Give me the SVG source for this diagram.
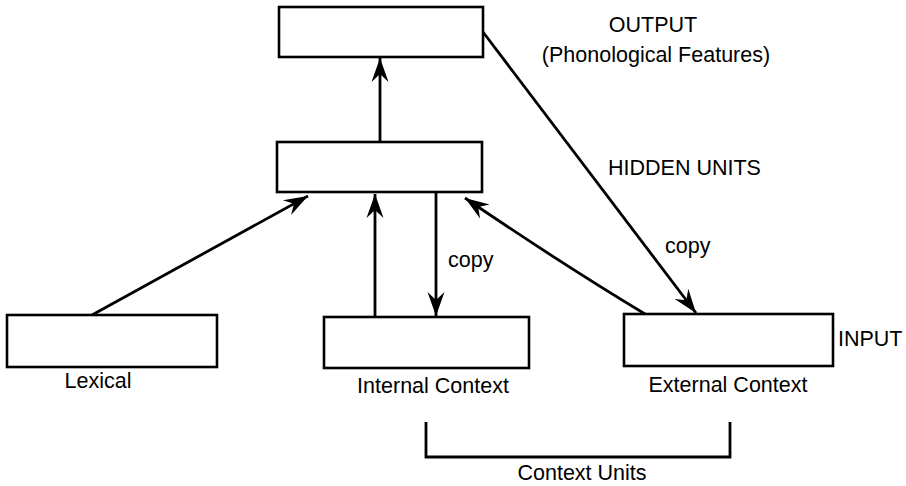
<svg xmlns="http://www.w3.org/2000/svg" width="906" height="486" viewBox="0 0 906 486">
<style>
.box{fill:#fff;stroke:#000;stroke-width:2.6}
.ln{fill:none;stroke:#000;stroke-width:2.8}
.t{font-family:"Liberation Sans",Arial,sans-serif;font-size:21.5px;fill:#000}
.m{text-anchor:middle}
</style>
<defs>
<marker id="ah" viewBox="-26 -10 28 20" refX="0" refY="0" markerWidth="28" markerHeight="20" markerUnits="userSpaceOnUse" orient="auto">
<path d="M0,0 L-24,-8.5 L-16,0 L-24,8.5 Z" fill="#000"/>
</marker>
</defs>
<rect width="906" height="486" fill="#fff"/>
<g id="output"><rect class="box" x="279" y="7" width="204" height="50"/></g>
<g id="hidden"><rect class="box" x="277" y="142" width="205" height="50"/></g>
<g id="lexical"><rect class="box" x="7" y="315" width="210" height="52"/><text class="t m" x="98" y="388">Lexical</text></g>
<g id="internal"><rect class="box" x="324" y="317" width="205" height="51"/><text class="t m" x="433" y="393">Internal Context</text></g>
<g id="external"><rect class="box" x="624" y="314" width="209" height="52"/><text class="t m" x="728" y="392">External Context</text></g>
<g id="labels">
<text class="t m" x="653" y="32">OUTPUT</text>
<text class="t m" x="656" y="62">(Phonological Features)</text>
<text class="t" x="608" y="175">HIDDEN UNITS</text>
<text class="t" x="838" y="346">INPUT</text>
<text class="t" x="448" y="267">copy</text>
<text class="t" x="665" y="253">copy</text>
</g>
<g id="connectors">
<path class="ln" d="M380,142 L380,58" marker-end="url(#ah)"/>
<path class="ln" d="M92,315 L308,196" marker-end="url(#ah)"/>
<path class="ln" d="M375,317 L375,194" marker-end="url(#ah)"/>
<path class="ln" d="M436,192 L436,316" marker-end="url(#ah)"/>
<path class="ln" d="M645,314 Q562,264 465,198" marker-end="url(#ah)"/>
<path class="ln" d="M483,32 L696,313" marker-end="url(#ah)"/>
</g>
<g id="bracket">
<path class="ln" d="M426,422 L426,457 L730,457 L730,422" stroke-width="2.2"/>
<text class="t m" x="582" y="480">Context Units</text>
</g>
</svg>
